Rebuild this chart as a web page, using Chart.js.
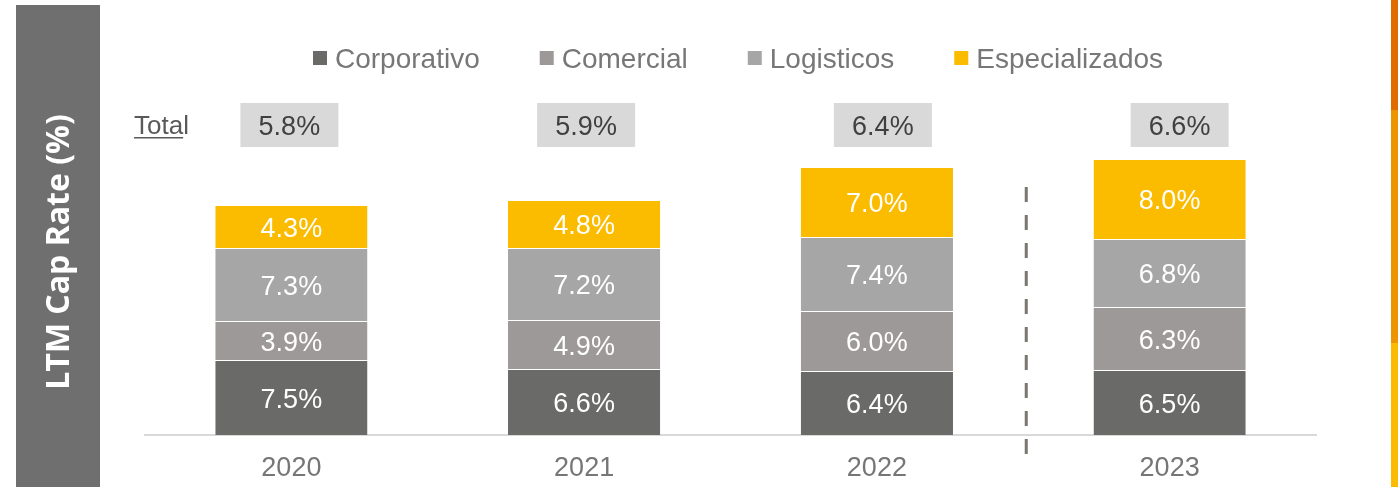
<!DOCTYPE html>
<html>
<head>
<meta charset="utf-8">
<script src="https://cdn.jsdelivr.net/npm/chart.js@4.4.1/dist/chart.umd.min.js"></script>
<style>
  html, body { margin: 0; padding: 0; background: #fff; }
  #wrap { width: 1398px; height: 487px; position: relative; }
</style>
</head>
<body>
<div id="wrap"><canvas id="capRate"></canvas></div>
<script>
// LTM cap rate by segment (%)
const years = ['2020', '2021', '2022', '2023'];
const corporativo = [7.5, 6.6, 6.4, 6.5];
const comercial = [3.9, 4.9, 6.0, 6.3];
const logisticos = [7.3, 7.2, 7.4, 6.8];
const especializados = [4.3, 4.8, 7.0, 8.0];
const totals = [5.8, 5.9, 6.4, 6.6];

const seriesNames = ['Corporativo', 'Comercial', 'Logisticos', 'Especializados'];
const seriesData = [corporativo, comercial, logisticos, especializados];
const seriesColors = ['#6a6a68', '#9d9998', '#a6a6a6', '#fbbc00'];

const FONT = "'Liberation Sans', Arial, sans-serif";

// side bands: grey title band on the left, orange strip on the right
const sideBands = {
  id: 'sideBands',
  beforeDraw(chart) {
    const ctx = chart.ctx;
    ctx.save();
    ctx.fillStyle = '#6f6f6f';
    ctx.fillRect(16, 5, 84, 482);
    ctx.translate(60, 252);
    ctx.rotate(-Math.PI / 2);
    ctx.fillStyle = '#ffffff';
    ctx.font = "bold 32px 'Open Sans', sans-serif";
    ctx.textAlign = 'center';
    ctx.textBaseline = 'middle';
    ctx.fillText('LTM Cap Rate (%)', 0, 0);
    ctx.restore();

    ctx.save();
    ctx.fillStyle = '#e06c00';
    ctx.fillRect(1391, 0, 7, 110);
    ctx.fillStyle = '#ec9500';
    ctx.fillRect(1391, 110, 7, 233);
    ctx.fillStyle = '#fbbb00';
    ctx.fillRect(1391, 343, 7, 144);
    ctx.restore();
  }
};

// labels inside bars, legend, total boxes and the dashed divider
const extras = {
  id: 'extras',
  afterDatasetsDraw(chart) {
    const ctx = chart.ctx;
    const x = chart.scales.x;

    // values in segments
    ctx.save();
    ctx.font = '27px ' + FONT;
    ctx.fillStyle = '#ffffff';
    ctx.textAlign = 'center';
    ctx.textBaseline = 'middle';
    chart.data.datasets.forEach((ds, di) => {
      chart.getDatasetMeta(di).data.forEach((bar, i) => {
        const mid = (bar.y + bar.base) / 2;
        ctx.fillText(ds.data[i].toFixed(1) + '%', bar.x, mid + 3);
      });
    });
    ctx.restore();

    // legend
    ctx.save();
    ctx.font = '28px ' + FONT;
    ctx.textBaseline = 'middle';
    ctx.textAlign = 'left';
    let lx = 313;
    seriesNames.forEach((name, i) => {
      ctx.fillStyle = seriesColors[i];
      ctx.fillRect(lx, 51, 14, 14);
      ctx.fillStyle = '#777777';
      ctx.fillText(name, lx + 22, 60);
      lx += 22 + ctx.measureText(name).width + 60;
    });
    ctx.restore();

    // totals row
    ctx.save();
    ctx.font = '26px ' + FONT;
    ctx.fillStyle = '#595959';
    ctx.textAlign = 'left';
    ctx.textBaseline = 'alphabetic';
    ctx.fillText('Total', 134, 134);
    const uw = ctx.measureText('Tota').width;
    ctx.fillRect(134, 137, uw, 1.5);
    ctx.font = '27px ' + FONT;
    ctx.textAlign = 'center';
    totals.forEach((t, i) => {
      const cx = x.getPixelForValue(i) + 4 * i - 2;
      ctx.fillStyle = '#d9d9d9';
      ctx.fillRect(cx - 49, 103, 98, 44);
      ctx.fillStyle = '#404040';
      ctx.fillText(t.toFixed(1) + '%', cx, 135);
    });
    ctx.restore();

    // dashed divider between 2022 and 2023
    ctx.save();
    const dx = (x.getPixelForValue(2) + x.getPixelForValue(3)) / 2 + 3;
    ctx.strokeStyle = '#7a7670';
    ctx.lineWidth = 3;
    ctx.setLineDash([15, 13]);
    ctx.beginPath();
    ctx.moveTo(dx, 187);
    ctx.lineTo(dx, 456);
    ctx.stroke();
    ctx.restore();
  }
};

new Chart(document.getElementById('capRate'), {
  type: 'bar',
  data: {
    labels: years,
    datasets: seriesNames.map((name, i) => ({
      label: name,
      data: seriesData[i],
      backgroundColor: seriesColors[i],
      borderColor: 'rgba(255,255,255,0.55)',
      borderWidth: { top: 1, bottom: 0, left: 0, right: 0 },
      borderSkipped: false,
      categoryPercentage: 1,
      barPercentage: 0.52
    }))
  },
  options: {
    responsive: true,
    maintainAspectRatio: false,
    animation: false,
    layout: { padding: { left: 145, right: 82, top: 155, bottom: 0 } },
    plugins: {
      legend: { display: false },
      tooltip: { enabled: false }
    },
    scales: {
      x: {
        stacked: true,
        grid: { display: false, drawTicks: false },
        border: { display: true, color: '#d9d9d9', width: 2 },
        ticks: { color: '#767676', font: { size: 27, family: FONT }, padding: 17 },
        afterFit(scale) { scale.height = 52; }
      },
      y: {
        stacked: true,
        display: false,
        min: 0,
        max: 28
      }
    }
  },
  plugins: [sideBands, extras]
});
</script>
</body>
</html>
